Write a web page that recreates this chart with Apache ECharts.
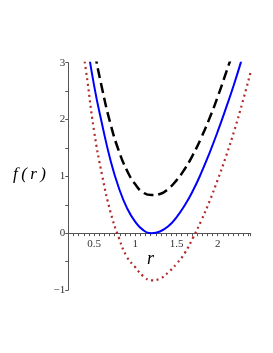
<!DOCTYPE html>
<html><head><meta charset="utf-8">
<script src="https://cdn.jsdelivr.net/npm/echarts@6/dist/echarts.min.js"></script>
<style>html,body{margin:0;padding:0;background:#fff}#c{width:273px;height:353px}</style>
</head><body><div id="c"></div>
<script>
const rValues = [0.3,0.4,0.5,0.6,0.7,0.8,0.9,1.0,1.1,1.2,1.3,1.4,1.5,1.6,1.7,1.8,1.9,2.0,2.1,2.2,2.3,2.4];
const blueSolid = [4.6,3.5,2.6,1.9,1.28,0.8,0.44,0.2,0.05,0.0,0.03,0.12,0.28,0.49,0.75,1.06,1.41,1.79,2.2,2.63,3.1,3.6];
const blackDashed = [5.25,4.15,3.25,2.53,1.92,1.45,1.1,0.86,0.71,0.67,0.69,0.78,0.93,1.13,1.38,1.68,2.02,2.4,2.82,3.25,3.7,4.2];
const redDotted = [3.8,2.88,1.8,1.0,0.37,-0.08,-0.42,-0.6,-0.76,-0.83,-0.8,-0.69,-0.54,-0.35,-0.08,0.22,0.56,0.94,1.35,1.8,2.3,2.84];
const xTickLabels = [0.5,1,1.5,2];
const yTickLabels = [-1,0,1,2,3];

const pair = (ys) => rValues.map((r,i)=>[r, ys[i]]);
const serif = 'Liberation Serif';
const chart = echarts.init(document.getElementById('c'), null, {renderer:'canvas'});
chart.setOption({
  animation:false,
  grid:{left:68.3, right:22.3, top:62.7, bottom:63, containLabel:false},
  xAxis:{type:'value', min:0.1875, max:2.4, interval:0.0625,
    axisLine:{onZero:true, lineStyle:{color:'#555', width:1}},
    axisTick:{show:true, length:3, lineStyle:{color:'#555'}},
    splitLine:{show:false},
    axisLabel:{show:false}
  },
  yAxis:{type:'value', min:-1, max:3, interval:0.5,
    axisLine:{show:true, onZero:false, lineStyle:{color:'#555', width:1}},
    axisTick:{show:true, length:3, lineStyle:{color:'#555'}},
    splitLine:{show:false},
    axisLabel:{color:'#333', fontFamily:serif, fontSize:11, margin:3,
      formatter:(v)=>{const m=yTickLabels.find(t=>Math.abs(t-v)<1e-6); return m===undefined?'':(m<0?'\u2212'+Math.abs(m):String(m));}}
  },
  series:[
    {type:'line', data:pair(redDotted), smooth:true, showSymbol:false, clip:true,
      lineStyle:{color:'#b22a2a', width:2.2, type:[2,3.6], cap:'butt'}},
    {type:'line', data:pair(blackDashed), smooth:true, showSymbol:false, clip:true,
      lineStyle:{color:'#000', width:2.5, type:[10,5]}},
    {type:'line', data:pair(blueSolid), smooth:true, showSymbol:false, clip:true,
      lineStyle:{color:'#0000ff', width:2}}
  ]
});
// x tick labels placed at the zero line through the library's own scales
const labels = xTickLabels.map(v=>{
  const p = chart.convertToPixel({gridIndex:0}, [v, 0]);
  return {type:'text', x:p[0], y:p[1]+5, style:{text:String(v), font:'11px "Liberation Serif"', fill:'#333', align:'center', verticalAlign:'top'}};
});
chart.setOption({graphic:[
  ...labels,
  {type:'text', left:13, top:166, style:{text:'f\u2009(\u2009r\u2009)', font:'italic 17px "Liberation Serif"', fill:'#000'}},
  {type:'text', left:147, top:250, style:{text:'r', font:'italic 18px "Liberation Serif"', fill:'#000'}}
]});
</script></body></html>
